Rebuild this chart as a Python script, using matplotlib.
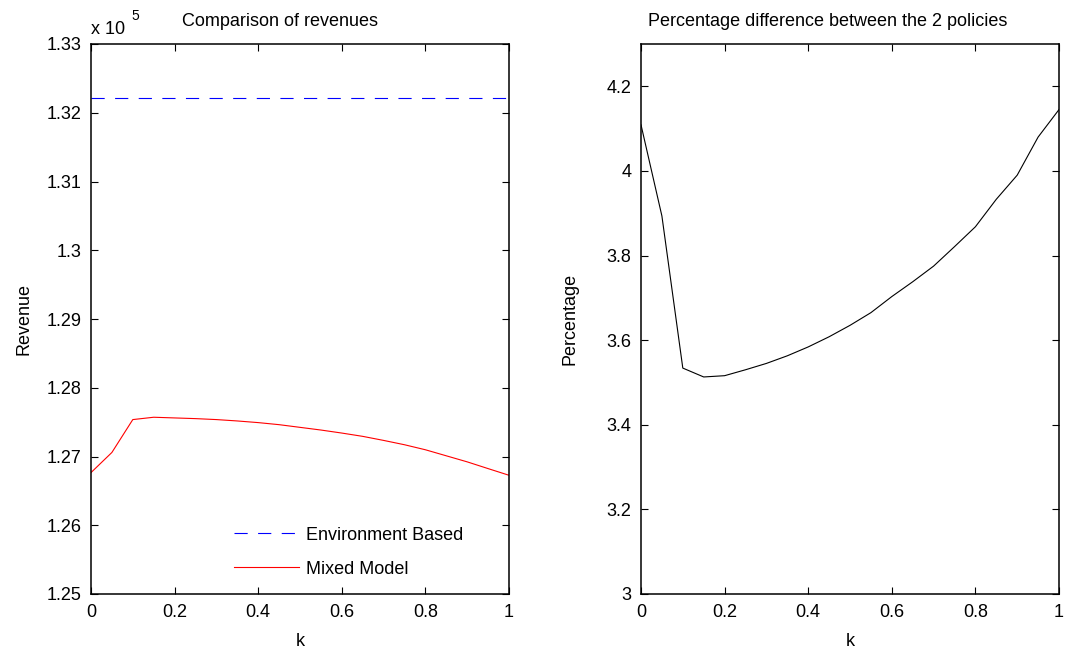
import matplotlib
matplotlib.use("Agg")
import matplotlib.pyplot as plt
from matplotlib.ticker import FuncFormatter

plt.rcParams['font.family'] = ['Liberation Sans', 'DejaVu Sans']
plt.rcParams['lines.scale_dashes'] = False

k = [0.0, 0.05, 0.1, 0.15, 0.2, 0.25, 0.3, 0.35, 0.4, 0.45, 0.5,
     0.55, 0.6, 0.65, 0.7, 0.75, 0.8, 0.85, 0.9, 0.95, 1.0]
env_revenue = [132220] * len(k)
mixed_revenue = [126766, 127059, 127537, 127571, 127561, 127551, 127537,
                 127517, 127493, 127463, 127424, 127385, 127341, 127293,
                 127234, 127171, 127098, 127010, 126922, 126824, 126727]
pct_diff = [4.109, 3.8935, 3.534, 3.513, 3.516, 3.530, 3.545, 3.563,
            3.584, 3.608, 3.635, 3.665, 3.703, 3.738, 3.775, 3.821,
            3.868, 3.933, 3.990, 4.080, 4.145]

x_ticks = [0, 0.2, 0.4, 0.6, 0.8, 1]
rev_ticks = [125000, 126000, 127000, 128000, 129000, 130000, 131000, 132000, 133000]
pct_ticks = [3, 3.2, 3.4, 3.6, 3.8, 4, 4.2]

FS = 13
W, H = 1071, 654
fig = plt.figure(figsize=(W / 100, H / 100), dpi=100)

def px_axes(x0, y0, x1, y1):
    return fig.add_axes([x0 / W, 1 - y1 / H, (x1 - x0) / W, (y1 - y0) / H])

ax1 = px_axes(91, 44, 509, 594)
ax2 = px_axes(641, 44, 1059, 594)

for ax in (ax1, ax2):
    ax.tick_params(direction='in', top=True, right=True, length=5, width=0.8,
                   labelsize=FS, pad=7)
    for s in ax.spines.values():
        s.set_linewidth(1.1)
    ax.set_xlim(0, 1)
    ax.set_xticks(x_ticks)
    ax.xaxis.set_major_formatter(FuncFormatter(lambda v, p: f"{v:g}"))
    ax.set_xlabel('k', fontsize=FS, labelpad=9)

ax1.plot(k, env_revenue, color='#0000ff', lw=0.8, dashes=(9.5, 7.5),
         label='Environment Based')
ax1.plot(k, mixed_revenue, color='#ff0000', lw=0.8, label='Mixed Model')
ax1.set_ylim(125000, 133000)
ax1.set_yticks(rev_ticks)
ax1.yaxis.set_major_formatter(FuncFormatter(lambda v, p: f"{v / 1e5:g}"))
ax1.set_ylabel('Revenue', fontsize=FS, labelpad=10)
fig.text(280 / W, 1 - 26 / H, 'Comparison of revenues', fontsize=FS,
         ha='center', va='baseline')
fig.text(91 / W, 1 - 34 / H, 'x 10', fontsize=FS, ha='left', va='baseline')
fig.text(131 / W, 1 - 20 / H, '5', fontsize=FS - 3, ha='left', va='baseline')
leg = ax1.legend(loc='lower right', frameon=False, fontsize=FS,
                 handlelength=3.6, handletextpad=0.4, labelspacing=0.95,
                 bbox_to_anchor=(0.93, 0.0))

ax2.plot(k, pct_diff, color='black', lw=0.8)
ax2.set_ylim(3, 4.3)
ax2.set_yticks(pct_ticks)
ax2.yaxis.set_major_formatter(FuncFormatter(lambda v, p: f"{v:g}"))
ax2.set_ylabel('Percentage', fontsize=FS, labelpad=20)
fig.text(828 / W, 1 - 26 / H, 'Percentage difference between the 2 policies',
         fontsize=FS, ha='center', va='baseline')

fig.savefig('out.png', dpi=100)
